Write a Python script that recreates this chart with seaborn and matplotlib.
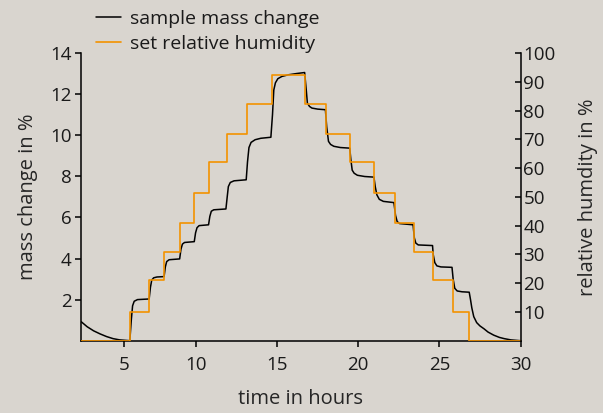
import numpy as np
import pandas as pd
import matplotlib
matplotlib.use("Agg")
import matplotlib.pyplot as plt
import seaborn as sns

# ---- data ----
mass_time = [2.94, 3.3, 3.7, 4.1, 4.5, 4.9, 5.3, 5.93,
             6.02, 6.1, 6.2, 6.4, 7.12,
             7.2, 7.28, 7.4, 7.6, 8.04,
             8.12, 8.2, 8.35, 9.0,
             9.08, 9.17, 9.3, 9.9,
             9.98, 10.07, 10.2, 10.78,
             10.86, 10.95, 11.1, 11.85,
             11.93, 12.0, 12.12, 12.35, 13.1,
             13.18, 13.27, 13.4, 13.65, 14.0, 14.62,
             14.72, 14.8, 14.9, 15.05, 15.3, 15.7, 16.2, 16.7,
             16.8, 16.87, 17.0, 17.15, 17.5, 17.98,
             18.06, 18.17, 18.3, 18.5, 18.9, 19.48,
             19.55, 19.63, 19.75, 19.95, 20.4, 20.97,
             21.05, 21.15, 21.3, 21.55, 22.2,
             22.3, 22.4, 22.55, 23.38,
             23.46, 23.55, 23.7, 24.58,
             24.62, 24.72, 24.85, 25.1, 25.78,
             25.85, 25.95, 26.1, 26.4, 26.84,
             26.92, 27.0, 27.12, 27.3, 27.5, 27.75, 28.0, 28.35, 28.7, 29.0, 29.4, 30.0]
mass_change = [0.92, 0.68, 0.48, 0.33, 0.20, 0.10, 0.04, 0.0,
               1.0, 1.7, 1.92, 2.0, 2.03,
               2.6, 2.95, 3.06, 3.10, 3.12,
               3.6, 3.85, 3.94, 3.98,
               4.45, 4.70, 4.78, 4.82,
               5.25, 5.50, 5.60, 5.64,
               6.05, 6.30, 6.37, 6.41,
               7.0, 7.5, 7.7, 7.78, 7.83,
               8.7, 9.4, 9.65, 9.78, 9.85, 9.90,
               11.0, 12.2, 12.55, 12.75, 12.86, 12.94, 13.0, 13.05,
               12.2, 11.56, 11.4, 11.32, 11.27, 11.24,
               10.4, 9.7, 9.55, 9.46, 9.40, 9.37,
               8.8, 8.3, 8.15, 8.05, 7.99, 7.96,
               7.5, 7.1, 6.88, 6.78, 6.72,
               6.1, 5.8, 5.7, 5.64,
               5.0, 4.75, 4.66, 4.63,
               4.2, 3.8, 3.64, 3.59, 3.57,
               3.0, 2.55, 2.42, 2.38, 2.36,
               2.0, 1.6, 1.17, 0.88, 0.72, 0.58, 0.42, 0.27, 0.16, 0.10, 0.04, 0.0]

rh_time = [2.94, 5.93, 7.12, 8.04, 9.0, 9.9, 10.78, 11.9, 13.17, 14.67,
           16.73, 18.02, 19.51, 21.0, 22.24, 23.41, 24.61, 25.82, 26.85, 30.0]
rh_value = [0, 10, 21, 31, 41, 51.5, 62, 72, 82.3, 92.5,
            82.3, 72, 62, 51.5, 41, 31, 21, 10, 0, 0]

x_ticks = [5.6, 10, 15, 20, 25, 30]
x_tick_labels = ["5", "10", "15", "20", "25", "30"]
mass_ticks = [2, 4, 6, 8, 10, 12, 14]
rh_ticks = [10, 20, 30, 40, 50, 60, 70, 80, 90, 100]

mass_df = pd.DataFrame({"time": mass_time, "mass": mass_change})
rh_df = pd.DataFrame({"time": rh_time, "rh": rh_value})

# ---- style ----
sns.set_theme(style="ticks")
bg = "#D9D5CF"
plt.rcParams["font.family"] = ["Open Sans", "DejaVu Sans"]
plt.rcParams["axes.linewidth"] = 1.1
plt.rcParams["xtick.major.width"] = 1.1
plt.rcParams["ytick.major.width"] = 1.1
plt.rcParams["text.color"] = "#1a1a1a"

fs = 13.5
lfs = 14.5
fig = plt.figure(figsize=(6.03, 4.13), dpi=100, facecolor=bg)
ax = fig.add_axes([81.3 / 603, 1 - 340.7 / 413, (520.5 - 81.3) / 603, (340.7 - 53.0) / 413])
ax.set_facecolor(bg)

sns.lineplot(data=mass_df, x="time", y="mass", ax=ax, color="black",
             linewidth=1.1, estimator=None, sort=False, label="sample mass change", legend=False)

ax2 = ax.twinx()
sns.lineplot(data=rh_df, x="time", y="rh", ax=ax2, color="#F39200",
             linewidth=1.2, estimator=None, sort=False, drawstyle="steps-post",
             label="set relative humidity", legend=False)

ax.set_xlim(2.94, 30)
ax.set_ylim(0, 14)
ax2.set_ylim(0, 100)

ax.set_xticks(x_ticks, labels=x_tick_labels)
ax.set_yticks(mass_ticks)
ax2.set_yticks(rh_ticks)

for a in (ax, ax2):
    a.spines["top"].set_visible(False)
    for s in a.spines.values():
        s.set_color("black")
ax.spines["right"].set_visible(False)
ax2.spines["left"].set_visible(False)
ax2.spines["bottom"].set_visible(False)

ax.tick_params(axis="x", direction="out", length=4, pad=7, labelsize=fs, colors="black", labelcolor="#1a1a1a")
ax.tick_params(axis="y", direction="out", length=4, pad=3, labelsize=fs, colors="black", labelcolor="#1a1a1a")
ax2.tick_params(axis="y", direction="in", length=4, pad=2, labelsize=fs, colors="black", labelcolor="#1a1a1a")

ax.set_xlabel("time in hours", fontsize=lfs, labelpad=11)
ax.set_ylabel("mass change in %", fontsize=lfs, labelpad=9)
ax2.set_ylabel("relative humdity in %", fontsize=lfs, labelpad=16)

h1, l1 = ax.get_legend_handles_labels()
h2, l2 = ax2.get_legend_handles_labels()
fig.legend(h1 + h2, l1 + l2, loc="upper left", bbox_to_anchor=(96 / 603, 1 - 10 / 413),
           frameon=False, fontsize=14, handlelength=1.3, handletextpad=0.45,
           labelspacing=0.35, borderpad=0, borderaxespad=0)

fig.savefig("out.png", dpi=100, facecolor=bg)
